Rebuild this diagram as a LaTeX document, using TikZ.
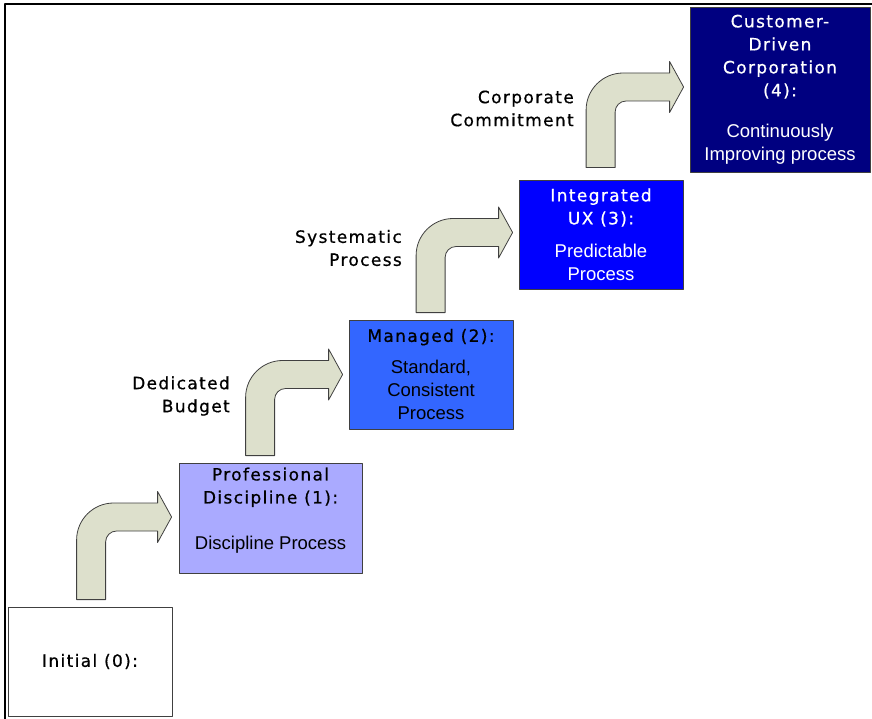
\documentclass[tikz,border=0pt]{standalone}
\usepackage{fontspec}
\setmainfont{Liberation Sans}
\newfontfamily\titlefont[LetterSpace=8, FakeBold=0.7]{DejaVu Sans}
\usetikzlibrary{positioning, calc}

\definecolor{flowfill}{RGB}{221,224,204}
\definecolor{lvlone}{RGB}{170,170,255}
\definecolor{lvltwo}{RGB}{51,102,255}
\definecolor{lvlthree}{RGB}{0,0,255}
\definecolor{lvlfour}{RGB}{0,0,128}

\newcommand{\bodyfont}{\rmfamily\fontsize{18.5}{23}\selectfont}

% bent arrow: #1 = foot of the stem, #2 = tip
\newcommand{\bentflow}[2]{%
  \draw[flow] let \p1=(#1), \p2=(#2) in
    (\x1-14.5pt,\y1) -- (\x1-14.5pt,\y2-23pt)
    arc[start angle=180,end angle=90,radius=37pt]
    -- (\x2-14pt,\y2+14pt) -- (\x2-14pt,\y2+25.5pt) -- (\x2,\y2)
    -- (\x2-14pt,\y2-25.5pt) -- (\x2-14pt,\y2-14pt)
    -- (\x1+25.5pt,\y2-14pt)
    arc[start angle=90,end angle=180,radius=11pt]
    -- (\x1+14.5pt,\y1) -- cycle;}

\begin{document}
\begin{tikzpicture}[x=1pt, y=-1pt, line join=round,
    stage/.style={draw=black!75, line width=0.8pt, inner sep=0pt, align=center,
      minimum width=164pt, minimum height=109pt,
      font=\titlefont\fontsize{17}{23}\selectfont},
    flow/.style={draw=black!75, fill=flowfill, line width=0.8pt},
    lbl/.style={anchor=east, align=right, inner sep=0pt,
      font=\titlefont\fontsize{17}{23}\selectfont}]
  \useasboundingbox (0,0) rectangle (872,719);
  \draw[line width=2pt] (5,719) -- (5,4) -- (872,4);

  % the five levels
  \node[stage, fill=white] (initial) at (90,661.5) {Initial (0):};
  \node[stage, fill=lvlone, minimum width=183pt, minimum height=110pt] (discipline) at (270.5,518)
    {Professional\\Discipline (1):\\[23pt]\bodyfont Discipline Process\\[-4pt]\mbox{}};
  \node[stage, fill=lvltwo] (managed) at (431,374.5)
    {Managed (2):\\[9pt]\bodyfont Standard,\\\bodyfont Consistent\\\bodyfont Process};
  \node[stage, fill=lvlthree, text=white] (integrated) at (601,234.5)
    {Integrated\\UX (3):\\[10pt]\bodyfont Predictable\\\bodyfont Process};
  \node[stage, fill=lvlfour, text=white, minimum width=180pt, minimum height=165pt] (customer) at (780,89.5)
    {Customer-\\Driven\\Corporation\\(4):\\[18pt]\bodyfont Continuously\\\bodyfont Improving process};

  % stems and tips of the arrows
  \coordinate (foot1) at ($(initial.north west)+(83.5,-7)$);
  \coordinate (tip1) at ($(discipline.west)+(-7,-1)$);
  \coordinate (foot2) at ($(discipline.north west)+(81.5,-7)$);
  \coordinate (tip2) at ($(managed.west)+(-6,0)$);
  \coordinate (foot3) at ($(managed.north west)+(82,-7)$);
  \coordinate (tip3) at ($(integrated.west)+(-6,-2)$);
  \coordinate (foot4) at ($(integrated.north west)+(82,-12)$);
  \coordinate (tip4) at ($(customer.west)+(-6,-2.5)$);
  \bentflow{foot1}{tip1}
  \bentflow{foot2}{tip2}
  \bentflow{foot3}{tip3}
  \bentflow{foot4}{tip4}

  \node[lbl] (budget) at (230,396) {Dedicated\\Budget};
  \node[lbl] (systematic) at (402,248) {Systematic\\Process};
  \node[lbl] (commitment) at (574,108.5) {Corporate\\Commitment};
\end{tikzpicture}
\end{document}
